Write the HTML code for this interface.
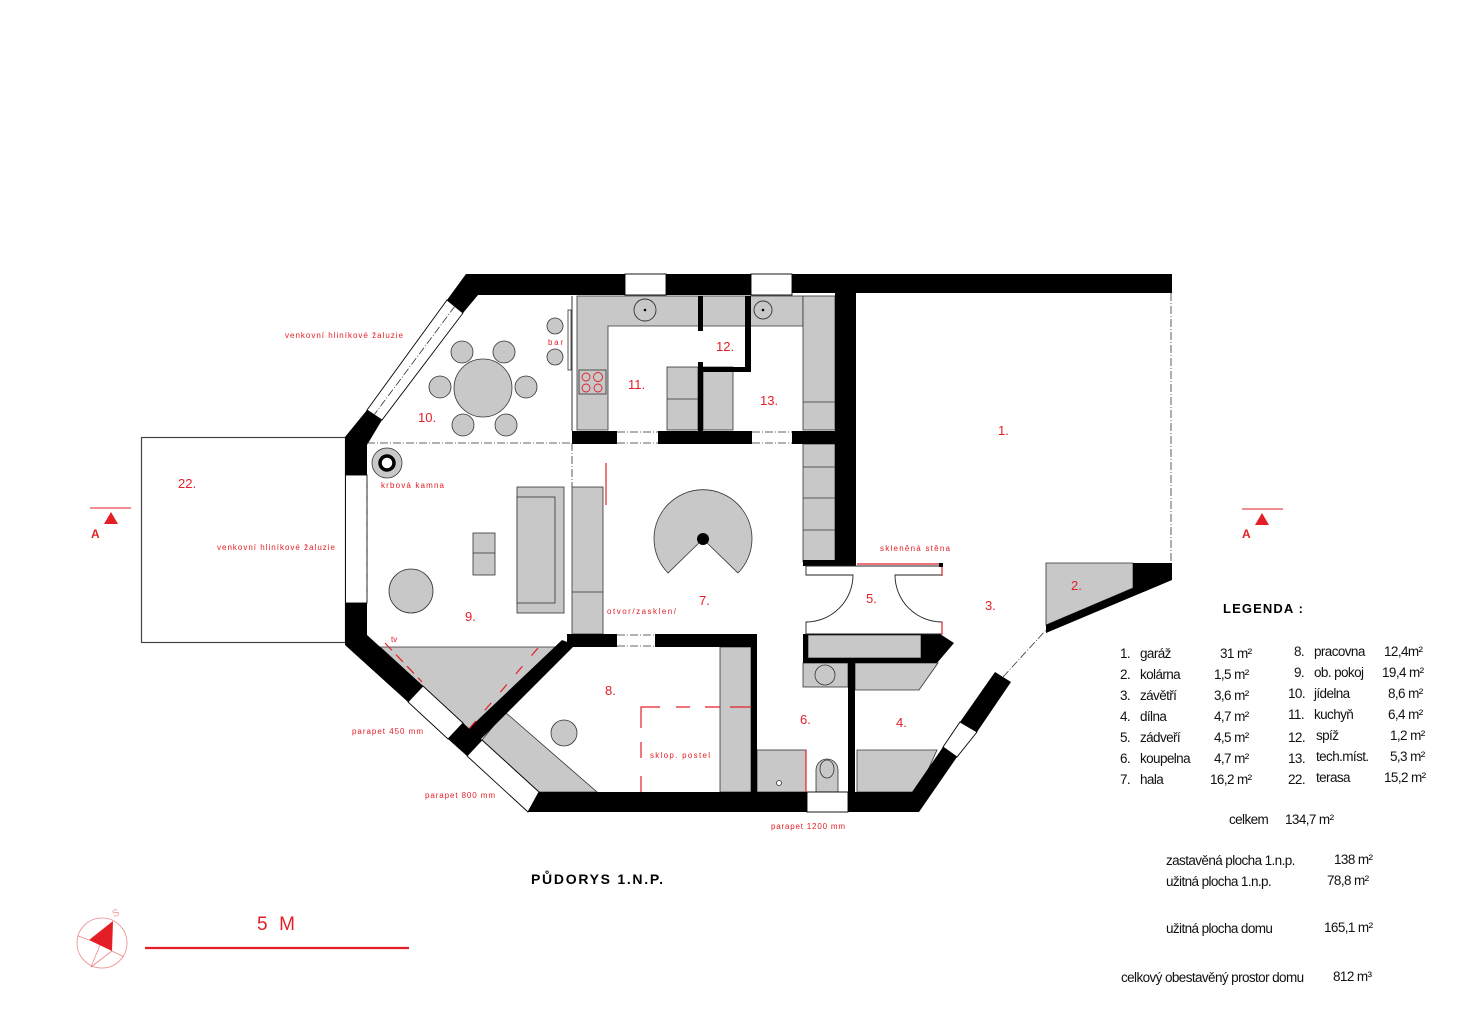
<!DOCTYPE html>
<html><head><meta charset="utf-8"><style>
html,body{margin:0;padding:0;background:#fff}
svg{display:block}
.r{fill:#e31e26;font-family:"Liberation Sans",sans-serif}
.s{font-size:8px}
.n{font-size:13px}
.k{fill:#111;font-family:"Liberation Sans",sans-serif;font-size:13.5px;letter-spacing:-0.6px}
</style></head><body>
<svg width="1457" height="1030" viewBox="0 0 1457 1030" xmlns="http://www.w3.org/2000/svg">
<rect width="1457" height="1030" fill="#fff"/>
<!-- terrace -->
<rect x="141.5" y="437.5" width="204" height="205" fill="#fff" stroke="#444" stroke-width="1.2"/>

<g fill="#c8c8c8" stroke="#333" stroke-width="0.8">
<!-- kitchen counters -->
<polygon points="577,296 803,296 803,326 608,326 608,430 577,430"/>
<rect x="667" y="367" width="31" height="63"/><rect x="703" y="367" width="30" height="63"/>
<line x1="667" y1="399" x2="698" y2="399"/>
<rect x="803" y="296" width="32" height="134"/><line x1="803" y1="402" x2="835" y2="402"/>
<rect x="803" y="444" width="32" height="118"/>
<line x1="803" y1="467" x2="835" y2="467"/><line x1="803" y1="498" x2="835" y2="498"/><line x1="803" y1="530" x2="835" y2="530"/>
<!-- dining -->
<circle cx="483" cy="388" r="29"/>
<circle cx="462" cy="352" r="11"/><circle cx="504" cy="352" r="11"/>
<circle cx="440" cy="387" r="11"/><circle cx="526" cy="387" r="11"/>
<circle cx="463" cy="425" r="11"/><circle cx="506" cy="425" r="11"/>
<circle cx="555" cy="326" r="8"/><circle cx="555" cy="357" r="8"/>
<!-- living -->
<circle cx="387" cy="463" r="15"/>
<rect x="517" y="487" width="47" height="126"/><rect x="517" y="497" width="38" height="106"/>
<rect x="473" y="533" width="22" height="42"/><line x1="473" y1="553" x2="495" y2="553"/>
<circle cx="411" cy="591" r="22"/>
<rect x="572" y="487" width="31" height="147"/><line x1="572" y1="592" x2="603" y2="592"/>
<!-- stair -->
<path d="M703,539 L738,573 A49,49 0 1 0 668,573 Z"/>
<!-- tv triangle -->
<polygon points="380,647 556,647 468,730 463,723"/>
<!-- room 8 -->
<polygon points="505,712 597,792 539,792 482,740"/>
<circle cx="564" cy="733" r="13"/>
<rect x="720" y="647" width="31" height="145"/>
<!-- bath -->
<rect x="757" y="750" width="49" height="42"/>
<rect x="808" y="635" width="113" height="23"/>
<rect x="803" y="663" width="45" height="24"/>
<circle cx="825" cy="675" r="10" fill="none"/>
<polygon points="855,663 938,663 919,690 855,690"/>
<polygon points="857,750 937,750 918,792 857,792"/>
<path d="M816,792 V770 A11,11 0 0 1 838,770 V792 Z"/>
<ellipse cx="827" cy="769" rx="7" ry="9" fill="none"/>
<!-- kolarna -->
<polygon points="1046,563 1133,563 1133,588 1046,625"/>
</g>
<circle cx="387" cy="463" r="7" fill="#fff" stroke="#000" stroke-width="3.5"/>
<circle cx="703" cy="539" r="6" fill="#000"/>
<circle cx="645" cy="310" r="11" fill="none" stroke="#333" stroke-width="0.9"/><circle cx="645" cy="310" r="1.3"/>
<circle cx="763" cy="310" r="9" fill="none" stroke="#333" stroke-width="0.9"/><circle cx="763" cy="310" r="1.3"/>
<circle cx="779" cy="783" r="2.5" fill="#fff" stroke="#333" stroke-width="0.8"/>
<!-- cooktop -->
<rect x="579" y="370" width="27" height="24" fill="#c8c8c8" stroke="#333" stroke-width="0.8"/>
<g fill="none" stroke="#e31e26" stroke-width="0.9"><circle cx="586" cy="377" r="4"/><circle cx="598" cy="377" r="4.5"/><circle cx="586" cy="388" r="4"/><circle cx="598" cy="388" r="4"/></g>
<line x1="572" y1="296" x2="572" y2="431" stroke="#333" stroke-width="1"/>
<rect x="568" y="310" width="3" height="60" fill="#fff" stroke="#333" stroke-width="0.8"/>

<!-- walls -->
<g fill="#000">
<polygon points="466,274 625,274 625,295 478,295 463,313 447,300"/>
<rect x="666" y="274" width="85" height="21"/>
<rect x="792" y="274" width="380" height="19"/>
<rect x="835" y="274" width="21" height="292"/>
<rect x="803" y="560" width="53" height="6"/>
<polygon points="367,410 382,420 367,445 367,475 345,475 345,437"/>
<polygon points="345,603 367,603 367,635 423,686 408,702 345,645"/>
<polygon points="448,739 463,723 482,740 467,756"/>
<polygon points="528,812 539,792 807,792 807,812"/>
<polygon points="848,792 912,792 943,747 957,757 919,812 848,812"/>
<polygon points="960,722 995,672 1011,682 977,732"/>
<polygon points="1133,563 1172,563 1172,580 1046,633 1046,625 1133,588"/>
<rect x="698" y="296" width="5" height="35"/>
<rect x="698" y="362" width="5" height="70"/>
<rect x="745" y="296" width="6" height="76"/>
<rect x="698" y="367" width="53" height="5"/>
<rect x="572" y="431" width="45" height="13"/>
<rect x="658" y="431" width="94" height="13"/>
<rect x="792" y="431" width="44" height="13"/>
<rect x="567" y="634" width="50" height="13"/>
<rect x="655" y="634" width="102" height="13"/>
<rect x="751" y="634" width="6" height="158"/>
<polygon points="562,640 575,645 475,745 462,735"/>
<polygon points="803,634 940,634 954,643 937,663 803,663 803,658 921,658 921,635 808,635 808,658 803,658"/>
<rect x="848" y="663" width="7" height="129"/>
</g>
<!-- windows -->
<g fill="#fff" stroke="#000" stroke-width="0.9">
<polygon points="447,300 463,313 382,420 367,410"/>
<rect x="345.5" y="475" width="21.5" height="128"/>
<polygon points="408,702 423,686 463,723 448,739"/>
<polygon points="467,756 482,740 539,792 528,812"/>
<rect x="807" y="792" width="41" height="20"/>
<polygon points="943,747 960,722 977,732 957,757"/>
<rect x="625" y="274" width="41" height="21"/>
<rect x="751" y="274" width="41" height="21"/>
</g>
<g fill="none" stroke="#333" stroke-width="0.8" stroke-dasharray="8,2,1,2">
<line x1="455" y1="306" x2="374" y2="415"/>
<line x1="367" y1="475" x2="367" y2="603"/>
<line x1="367" y1="443" x2="572" y2="443"/>
<line x1="572" y1="443" x2="572" y2="487"/>
<line x1="1171" y1="293" x2="1171" y2="563"/>
<line x1="1003" y1="677" x2="1046" y2="630"/>
<line x1="617" y1="432" x2="658" y2="432"/><line x1="617" y1="443" x2="658" y2="443"/>
<line x1="752" y1="432" x2="792" y2="432"/><line x1="752" y1="443" x2="792" y2="443"/>
<line x1="617" y1="635" x2="655" y2="635"/><line x1="617" y1="646" x2="655" y2="646"/>
</g>
<!-- entry 5 -->
<g fill="#fff" stroke="#222" stroke-width="0.9">
<path d="M806,566 H942 V575 H895 A47,47 0 0 0 942,622 V634 H806 V622 A47,47 0 0 0 853,575 H806 Z"/>
</g>
<g stroke="#e31e26" stroke-width="1.2" fill="none">
<line x1="857" y1="564" x2="942" y2="564"/><line x1="942" y1="565" x2="942" y2="576"/>
<line x1="942" y1="622" x2="942" y2="634"/>
<line x1="606" y1="463" x2="606" y2="505"/>
<line x1="806" y1="750" x2="806" y2="792"/>
<path d="M641,728 V707 H660 M676,707 H690 M705,707 H720 M730,707 H751" stroke-dasharray="none"/>
<line x1="641" y1="742" x2="641" y2="758"/><line x1="641" y1="776" x2="641" y2="792"/>
<line x1="385" y1="643" x2="422" y2="682" stroke-dasharray="10,6"/>
<line x1="538" y1="648" x2="468" y2="730" stroke-dasharray="10,14"/>
</g>
<rect x="939" y="563" width="4" height="4" fill="#000"/>

<!-- room numbers -->
<g class="r n">
<text x="998" y="435">1.</text><text x="1071" y="590">2.</text><text x="985" y="610">3.</text>
<text x="896" y="727">4.</text><text x="866" y="603">5.</text><text x="800" y="724">6.</text>
<text x="699" y="605">7.</text><text x="605" y="695">8.</text><text x="465" y="621">9.</text>
<text x="418" y="422">10.</text><text x="628" y="389">11.</text><text x="716" y="351">12.</text>
<text x="760" y="405">13.</text><text x="178" y="488">22.</text>
</g>
<g class="r s">
<text x="285" y="338" textLength="118">venkovní hliníkové žaluzie</text>
<text x="217" y="550" textLength="118">venkovní hliníkové žaluzie</text>
<text x="381" y="488" textLength="63">krbová kamna</text>
<text x="548" y="345" textLength="15">bar</text>
<text x="391" y="642">tv</text>
<text x="607" y="614" textLength="69">otvor/zasklen/</text>
<text x="650" y="758" textLength="60">sklop. postel</text>
<text x="352" y="734" textLength="71">parapet 450 mm</text>
<text x="425" y="798" textLength="70">parapet 800 mm</text>
<text x="771" y="829" textLength="74">parapet 1200 mm</text>
<text x="880" y="551" textLength="70">skleněná stěna</text>
</g>
<!-- section marks -->
<g stroke="#e31e26" stroke-width="1"><line x1="90" y1="508" x2="131" y2="508"/><line x1="1242" y1="509" x2="1283" y2="509"/></g>
<g fill="#e31e26"><polygon points="111,512 104,524 118,524"/><polygon points="1262,513 1255,525 1269,525"/></g>
<text x="91" y="538" fill="#e31e26" font-family="Liberation Sans,sans-serif" font-weight="bold" font-size="12">A</text>
<text x="1242" y="538" fill="#e31e26" font-family="Liberation Sans,sans-serif" font-weight="bold" font-size="12">A</text>

<text x="531" y="884" font-family="Liberation Sans,sans-serif" font-weight="bold" font-size="14" textLength="132">PŮDORYS 1.N.P.</text>
<!-- scale -->
<text x="257" y="930" fill="#e31e26" font-family="Liberation Sans,sans-serif" font-size="19" textLength="38">5 M</text>
<line x1="145" y1="948" x2="409" y2="948" stroke="#e31e26" stroke-width="2.2"/>
<!-- compass -->
<g stroke="#e88" stroke-width="0.8" fill="none">
<circle cx="102" cy="943" r="25"/>
<line x1="89" y1="940" x2="78" y2="936"/><line x1="112" y1="951" x2="124" y2="957"/><line x1="100" y1="945" x2="91" y2="967"/><line x1="112" y1="951" x2="91" y2="967"/>
</g>
<polygon points="89,940 113,921 112,951" fill="#e31e26"/>
<text x="112" y="916" fill="#e99" font-family="Liberation Sans,sans-serif" font-size="10" transform="rotate(-25 116 912)">S</text>

<!-- legend -->
<text x="1223" y="613" font-family="Liberation Sans,sans-serif" font-weight="bold" font-size="13" textLength="80">LEGENDA :</text>
<g class="k">
<text x="1120" y="658">1.</text><text x="1140" y="658">garáž</text><text x="1220" y="658">31 m²</text>
<text x="1120" y="679">2.</text><text x="1140" y="679">kolárna</text><text x="1214" y="679">1,5 m²</text>
<text x="1120" y="700">3.</text><text x="1140" y="700">závětří</text><text x="1214" y="700">3,6 m²</text>
<text x="1120" y="721">4.</text><text x="1140" y="721">dílna</text><text x="1214" y="721">4,7 m²</text>
<text x="1120" y="742">5.</text><text x="1140" y="742">zádveří</text><text x="1214" y="742">4,5 m²</text>
<text x="1120" y="763">6.</text><text x="1140" y="763">koupelna</text><text x="1214" y="763">4,7 m²</text>
<text x="1120" y="784">7.</text><text x="1140" y="784">hala</text><text x="1210" y="784">16,2 m²</text>
<text x="1294" y="656">8.</text><text x="1314" y="656">pracovna</text><text x="1384" y="656">12,4m²</text>
<text x="1294" y="677">9.</text><text x="1314" y="677">ob. pokoj</text><text x="1382" y="677">19,4 m²</text>
<text x="1288" y="698">10.</text><text x="1314" y="698">jídelna</text><text x="1388" y="698">8,6 m²</text>
<text x="1288" y="719">11.</text><text x="1314" y="719">kuchyň</text><text x="1388" y="719">6,4 m²</text>
<text x="1288" y="742">12.</text><text x="1316" y="740">spíž</text><text x="1390" y="740">1,2 m²</text>
<text x="1288" y="763">13.</text><text x="1316" y="761">tech.míst.</text><text x="1390" y="761">5,3 m²</text>
<text x="1288" y="784">22.</text><text x="1316" y="782">terasa</text><text x="1384" y="782">15,2 m²</text>
<text x="1229" y="824">celkem</text><text x="1285" y="824">134,7 m²</text>
<text x="1166" y="865">zastavěná plocha  1.n.p.</text><text x="1334" y="864">138 m²</text>
<text x="1166" y="886">užitná plocha  1.n.p.</text><text x="1327" y="885">78,8 m²</text>
<text x="1166" y="933">užitná plocha  domu</text><text x="1324" y="932">165,1 m²</text>
<text x="1121" y="982">celkový obestavěný prostor domu</text><text x="1333" y="981">812 m³</text>
</g>
</svg>
</body></html>
